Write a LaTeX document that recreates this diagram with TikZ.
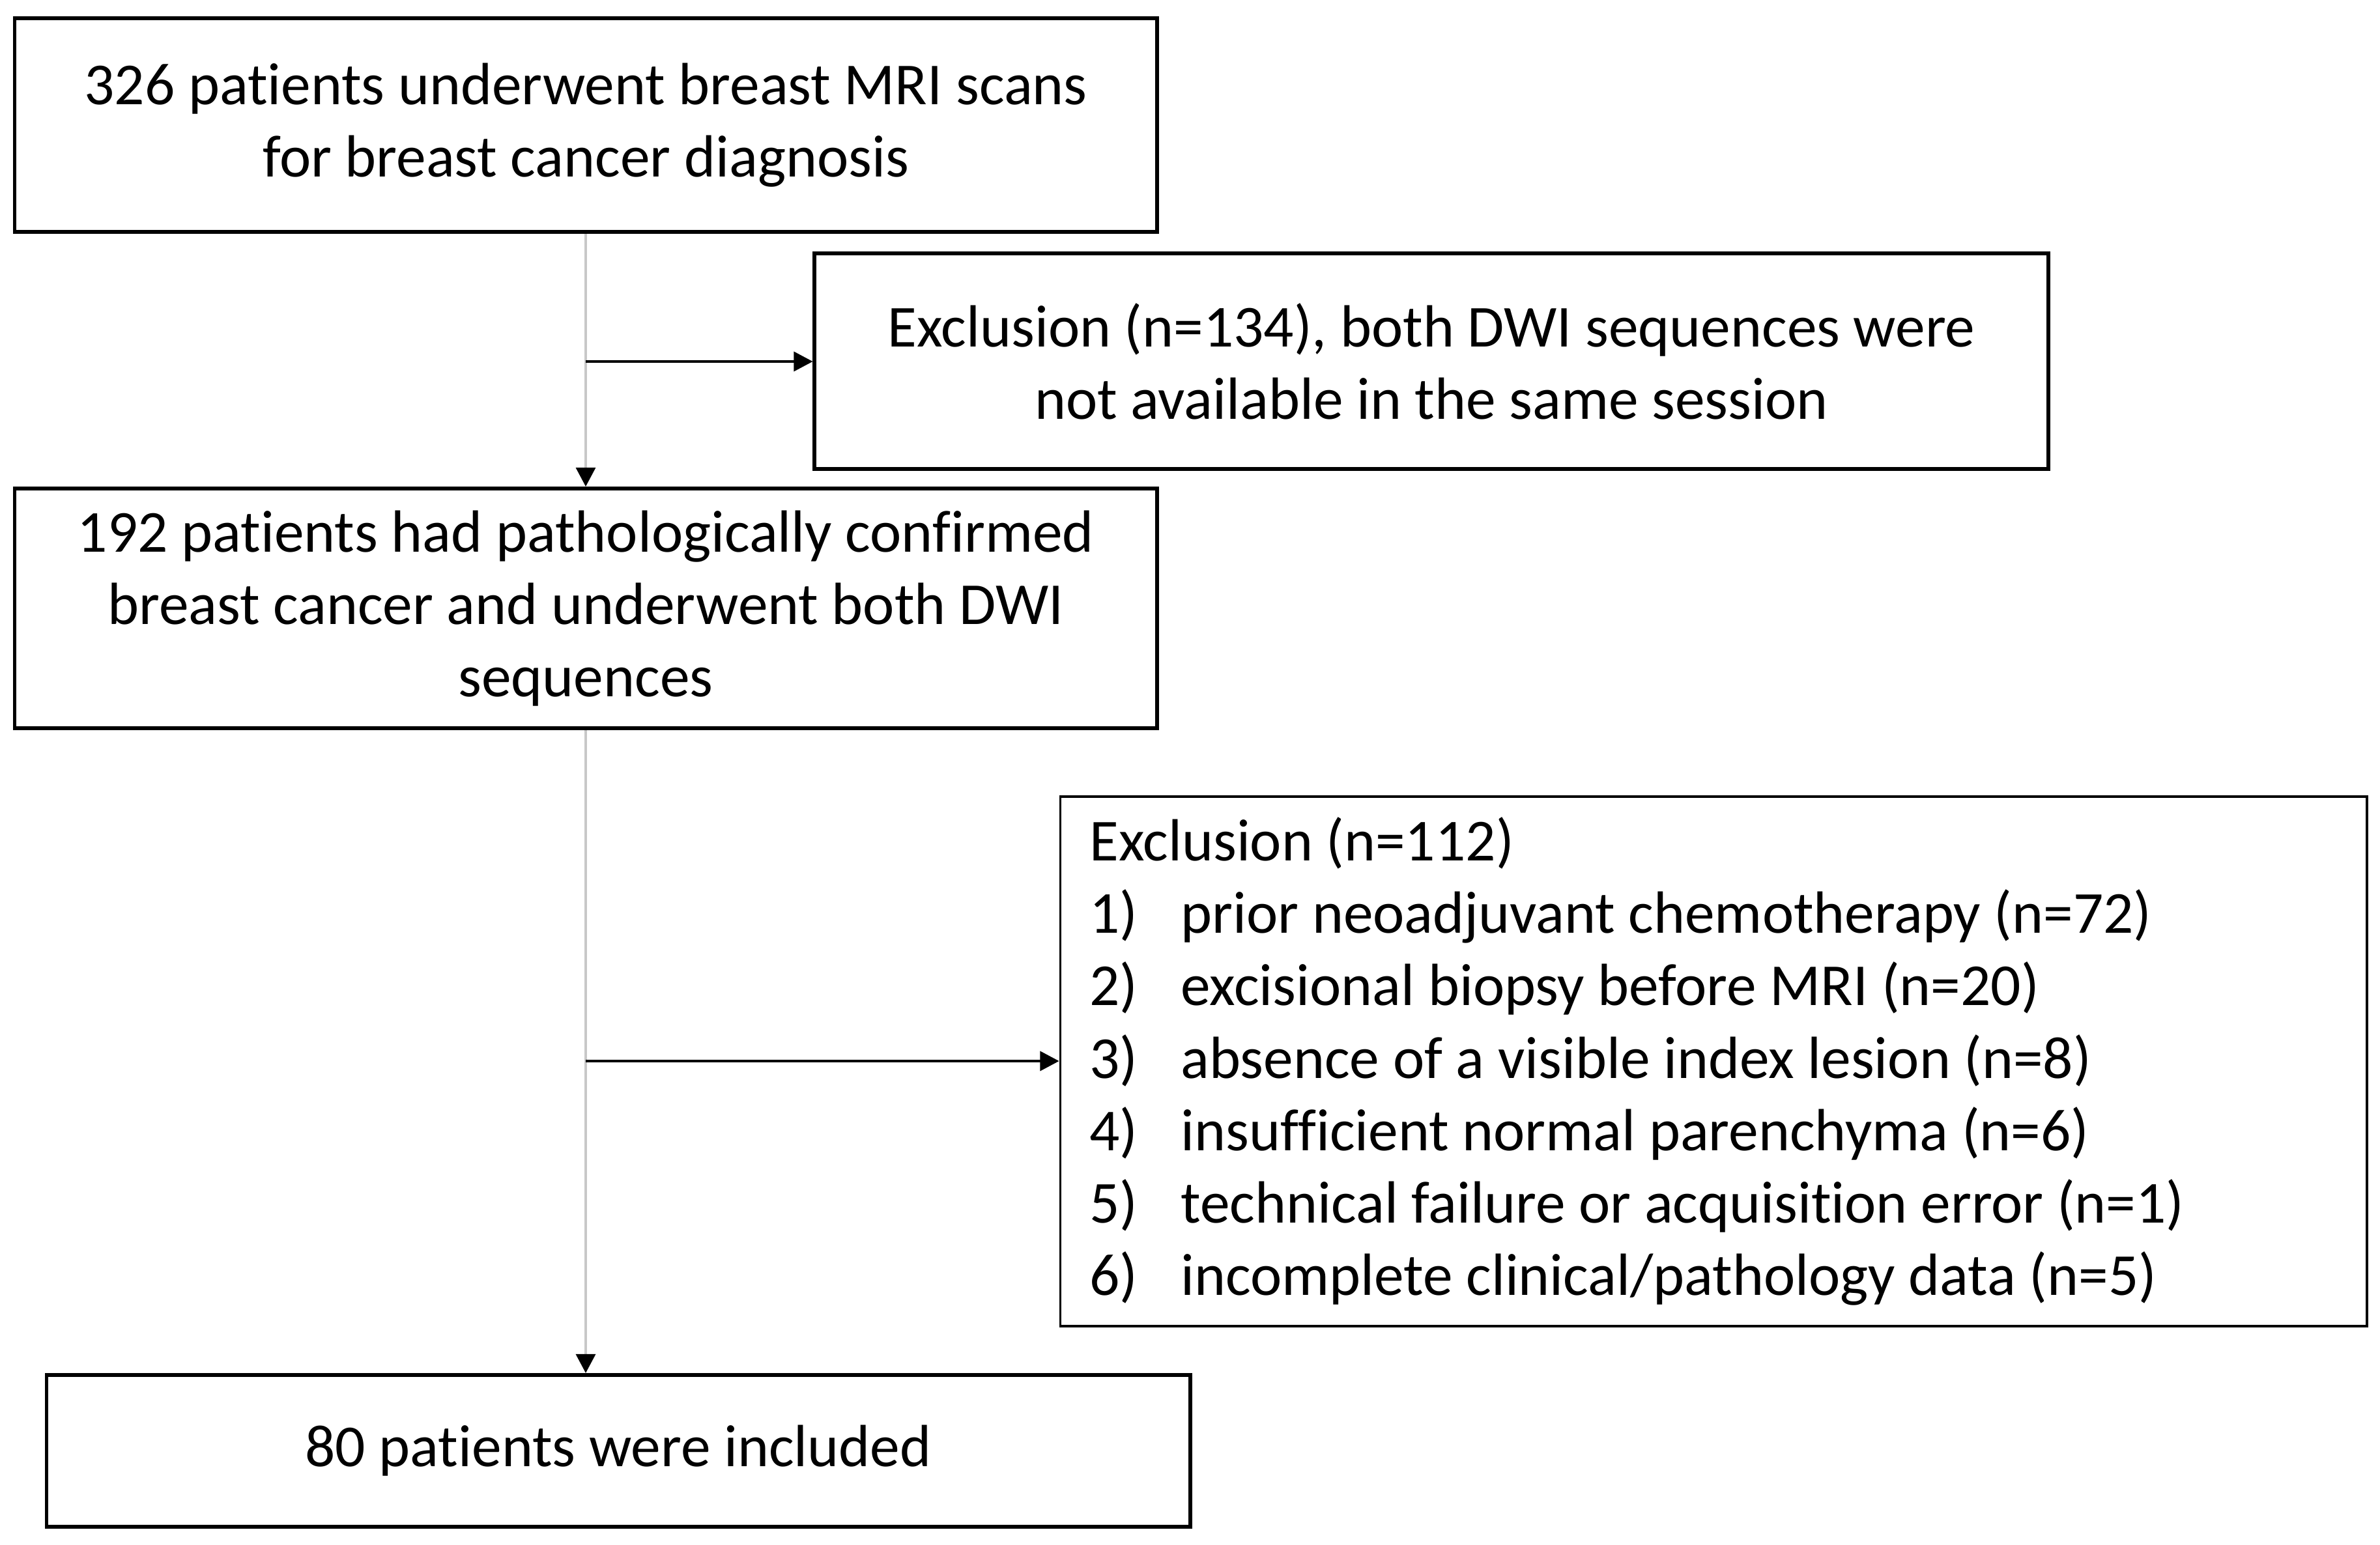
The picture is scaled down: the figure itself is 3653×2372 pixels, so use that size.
\documentclass[tikz,border=0pt]{standalone}
\usepackage{fontspec}
\setmainfont{Carlito}[Ligatures=NoCommon]
\usepackage{xcolor}
\usetikzlibrary{arrows.meta,positioning,calc}

\definecolor{linegray}{RGB}{200,200,200}

\begin{document}
\begin{tikzpicture}[
  x=0.01cm, y=-0.01cm,
  every node/.style={font=\fontsize{26}{31.6}\selectfont,align=center,inner sep=0pt},
  box/.style={rectangle,draw,line width=1.7pt},
  exclbox/.style={rectangle,draw,line width=1.1pt,align=flush left},
  arr/.style={-{Triangle[length=0.29cm,width=0.3cm]},line width=0.9pt},
  vline/.style={-{Triangle[length=0.29cm,width=0.3cm,color=black]},draw=linegray,line width=0.9pt},
]
\useasboundingbox (0,0) rectangle (3653,2372);

\node[box,minimum width=17.52cm,minimum height=3.28cm] (scans) at (899,192)
  {326 patients underwent breast MRI scans\\for breast cancer diagnosis};
\node[box,minimum width=18.92cm,minimum height=3.31cm] (excl1) at (2197,554.5)
  {Exclusion (n=134), both DWI sequences were\\not available in the same session};
\node[box,minimum width=17.52cm,minimum height=3.68cm] (confirmed) at (899,934)
  {192 patients had pathologically confirmed\\breast cancer and underwent both DWI\\sequences};
\node[exclbox,minimum width=20.04cm,minimum height=8.13cm,text width=19.14cm] (excl2) at (2630,1629.5)
  {Exclusion (n=112)\\
   \makebox[1.4cm][l]{1)}prior neoadjuvant chemotherapy (n=72)\\
   \makebox[1.4cm][l]{2)}excisional biopsy before MRI (n=20)\\
   \makebox[1.4cm][l]{3)}absence of a visible index lesion (n=8)\\
   \makebox[1.4cm][l]{4)}insufficient normal parenchyma (n=6)\\
   \makebox[1.4cm][l]{5)}technical failure or acquisition error (n=1)\\
   \makebox[1.4cm][l]{6)}incomplete clinical/pathology data (n=5)};
\node[box,minimum width=17.54cm,minimum height=2.33cm] (included) at (949,2227.5)
  {80 patients were included};

% main flow
\draw[vline] (scans) -- (confirmed);
\draw[vline] (confirmed.south) -- (confirmed.south |- included.north);

% exclusions
\coordinate (j1) at (899,555);
\coordinate (j2) at (899,1629);
\draw[arr] (j1) -- (j1 -| excl1.west);
\draw[arr] (j2) -- (j2 -| excl2.west);
\end{tikzpicture}
\end{document}
